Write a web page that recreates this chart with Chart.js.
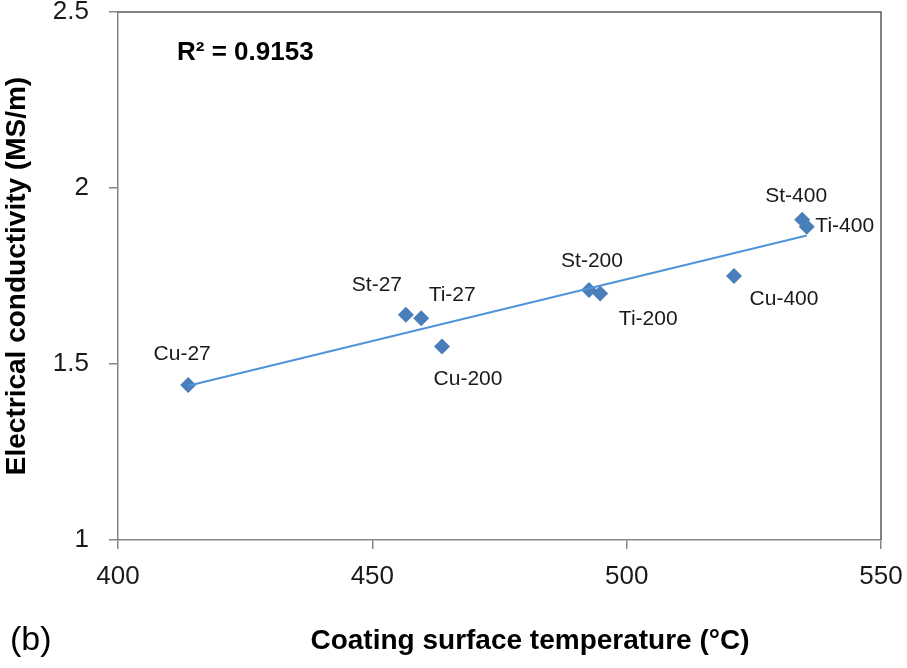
<!DOCTYPE html>
<html>
<head>
<meta charset="utf-8">
<title>Electrical conductivity vs coating surface temperature</title>
<script src="https://cdn.jsdelivr.net/npm/chart.js@4.4.1/dist/chart.umd.min.js"></script>
<style>
    html, body { margin: 0; padding: 0; background: #fff; }
    #wrap { width: 907px; height: 668px; }
</style>
</head>
<body>
<div id="wrap"><canvas id="chart" width="907" height="668"></canvas></div>
<script>
// ================================================
// DATA
// ================================================
const sampleNames = ['Cu-27', 'St-27', 'Ti-27', 'Cu-200', 'St-200', 'Ti-200', 'Cu-400', 'St-400', 'Ti-400'];
const surfaceTemp = [413.8, 456.6, 459.6, 463.7, 492.6, 494.8, 521.1, 534.5, 535.4];
const conductivity = [1.44, 1.64, 1.63, 1.55, 1.71, 1.70, 1.75, 1.91, 1.89];
const xTicks = [400, 450, 500, 550];
const yTicks = [1, 1.5, 2, 2.5];
const rSquaredText = 'R² = 0.9153';

// label placement around each marker (px, text centre relative to point)
const labelOffsets = [
    [-6, -31], [-29, -30], [31, -23], [26, 33], [3, -29],
    [48, 26], [50, 23], [-6, -23], [38, -1]
];

const FONT = '"Liberation Sans", Arial, sans-serif';

/**
 * LINEAR TRENDLINE (least squares)
 */
function trendline(xs, ys) {
    const n = xs.length;
    const mx = xs.reduce((a, b) => a + b, 0) / n;
    const my = ys.reduce((a, b) => a + b, 0) / n;
    let sxy = 0, sxx = 0;
    for (let i = 0; i < n; i++) {
        sxy += (xs[i] - mx) * (ys[i] - my);
        sxx += (xs[i] - mx) * (xs[i] - mx);
    }
    const slope = sxy / sxx;
    const icpt = my - slope * mx;
    const x0 = Math.min(...xs), x1 = Math.max(...xs);
    return [{ x: x0, y: icpt + slope * x0 }, { x: x1, y: icpt + slope * x1 }];
}

const points = surfaceTemp.map((t, i) => ({ x: t, y: conductivity[i] }));

// Frame, point labels and loose texts
const extrasPlugin = {
    id: 'extras',
    beforeDatasetsDraw(chart) {
        const { ctx, chartArea: a } = chart;
        ctx.save();
        ctx.strokeStyle = '#595959';
        ctx.lineWidth = 1.5;
        ctx.beginPath();
        ctx.moveTo(a.left, a.top);
        ctx.lineTo(a.right, a.top);
        ctx.lineTo(a.right, a.bottom);
        ctx.stroke();
        ctx.restore();
    },
    afterDatasetsDraw(chart) {
        const { ctx } = chart;
        const meta = chart.getDatasetMeta(1);
        ctx.save();
        ctx.fillStyle = '#1a1a1a';
        ctx.font = '21px ' + FONT;
        ctx.textAlign = 'center';
        ctx.textBaseline = 'middle';
        meta.data.forEach((pt, i) => {
            const off = labelOffsets[i];
            ctx.fillText(sampleNames[i], pt.x + off[0], pt.y + off[1]);
        });

        // R² annotation
        ctx.textAlign = 'left';
        ctx.font = 'bold 26px ' + FONT;
        ctx.fillStyle = '#000';
        ctx.fillText(rSquaredText, 177, 53);

        // x axis title (offset from centre like the original)
        ctx.textAlign = 'center';
        ctx.font = 'bold 28px ' + FONT;
        ctx.fillText('Coating surface temperature (°C)', 530, 641);

        // panel tag
        ctx.textAlign = 'left';
        ctx.font = '34px ' + FONT;
        ctx.fillText('(b)', 10, 641);
        ctx.restore();
    }
};

const chart = new Chart(document.getElementById('chart').getContext('2d'), {
    type: 'scatter',
    data: {
        datasets: [{
            type: 'line',
            label: 'Linear fit',
            data: trendline(surfaceTemp, conductivity),
            borderColor: '#4f93d8',
            borderWidth: 2,
            pointRadius: 0,
            fill: false,
            order: 0
        }, {
            label: 'Samples',
            data: points,
            pointStyle: 'rectRot',
            pointRadius: 8,
            backgroundColor: '#4a7ebb',
            borderColor: '#4a7ebb',
            borderWidth: 0,
            order: 1
        }]
    },
    options: {
        responsive: false,
        animation: false,
        layout: { padding: { top: 12, right: 26, left: 0, bottom: 0 } },
        plugins: {
            legend: { display: false },
            tooltip: { enabled: false }
        },
        scales: {
            x: {
                type: 'linear',
                min: 400,
                max: 550,
                afterBuildTicks: (s) => { s.ticks = xTicks.map(v => ({ value: v })); },
                afterFit: (s) => { s.height = 128; s.paddingLeft = 0; s.paddingRight = 0; },
                border: { color: '#868686', width: 1.5 },
                grid: { drawOnChartArea: false, tickLength: 9, color: '#868686', lineWidth: 1.5 },
                ticks: { color: '#1a1a1a', padding: 12, font: { family: FONT, size: 26 },
                         callback: (v) => String(v) }
            },
            y: {
                min: 1,
                max: 2.5,
                afterBuildTicks: (s) => { s.ticks = yTicks.map(v => ({ value: v })); },
                afterFit: (s) => { s.width = 118; s.paddingTop = 0; s.paddingBottom = 0; },
                border: { color: '#868686', width: 1.5 },
                grid: { drawOnChartArea: false, tickLength: 9, color: '#868686', lineWidth: 1.5 },
                ticks: { color: '#1a1a1a', padding: 20, font: { family: FONT, size: 26 },
                         callback: (v) => String(v) },
                title: {
                    display: true,
                    text: 'Electrical conductivity (MS/m)',
                    color: '#000',
                    font: { family: FONT, size: 28, weight: 'bold' },
                    padding: { top: 0, bottom: 0 }
                }
            }
        }
    },
    plugins: [extrasPlugin]
});
</script>
</body>
</html>
